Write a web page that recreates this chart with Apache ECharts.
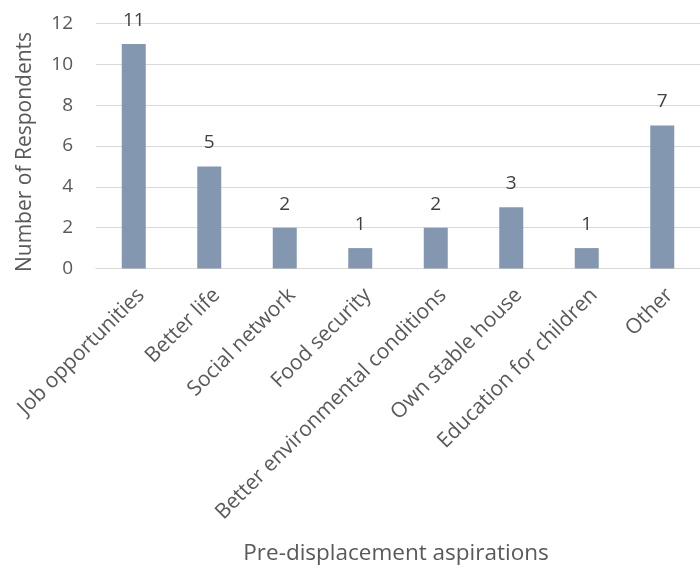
<!DOCTYPE html>
<html>
<head>
<meta charset="utf-8">
<script src="https://cdn.jsdelivr.net/npm/echarts@6/dist/echarts.min.js"></script>
<style>
  html, body { margin: 0; padding: 0; background: #ffffff; }
  #chart { width: 700px; height: 570px; }
</style>
</head>
<body>
<div id="chart"></div>
<script>
// Reasons respondents gave for wanting to move before displacement
const categories = [
  'Job opportunities',
  'Better life',
  'Social network',
  'Food security',
  'Better environmental conditions',
  'Own stable house',
  'Education for children',
  'Other'
];
const respondents = [11, 5, 2, 1, 2, 3, 1, 7];
const yTicks = [0, 2, 4, 6, 8, 10, 12];

const textColor = '#595959';
const fontFamily = '"Open Sans", "Noto Sans", sans-serif';

const chart = echarts.init(document.getElementById('chart'), null, { renderer: 'canvas' });
chart.setOption({
  animation: false,
  backgroundColor: '#ffffff',
  textStyle: { fontFamily: fontFamily },
  grid: { left: 96, top: 23.5, width: 610, height: 245, containLabel: false },
  xAxis: {
    type: 'category',
    data: categories,
    name: 'Pre-displacement aspirations',
    nameLocation: 'middle',
    nameGap: 274,
    nameTextStyle: { color: textColor, fontSize: 22.5, fontFamily: fontFamily, padding: [0, 4, 0, 0] },
    axisLine: { show: true, lineStyle: { color: '#d9d9d9', width: 1 } },
    axisTick: { show: false },
    axisLabel: {
      interval: 0,
      rotate: 45,
      margin: 16,
      verticalAlign: 'top',
      color: textColor,
      fontSize: 21,
      fontFamily: fontFamily
    }
  },
  yAxis: {
    type: 'value',
    min: yTicks[0],
    max: yTicks[yTicks.length - 1],
    interval: 2,
    name: 'Number of Respondents',
    nameLocation: 'middle',
    nameGap: 60,
    nameTextStyle: { color: textColor, fontSize: 21, fontFamily: fontFamily, padding: [0, 12, 0, 0] },
    axisLine: { show: false },
    axisTick: { show: false },
    axisLabel: { color: textColor, fontSize: 19, margin: 23, fontFamily: fontFamily },
    splitLine: { show: true, lineStyle: { color: '#d9d9d9', width: 1 } }
  },
  series: [{
    type: 'bar',
    data: respondents,
    barWidth: 24,
    itemStyle: { color: '#8497b0' },
    label: {
      show: true,
      position: 'top',
      distance: 14,
      color: '#404040',
      fontSize: 19,
      fontFamily: fontFamily
    }
  }]
});
</script>
</body>
</html>
